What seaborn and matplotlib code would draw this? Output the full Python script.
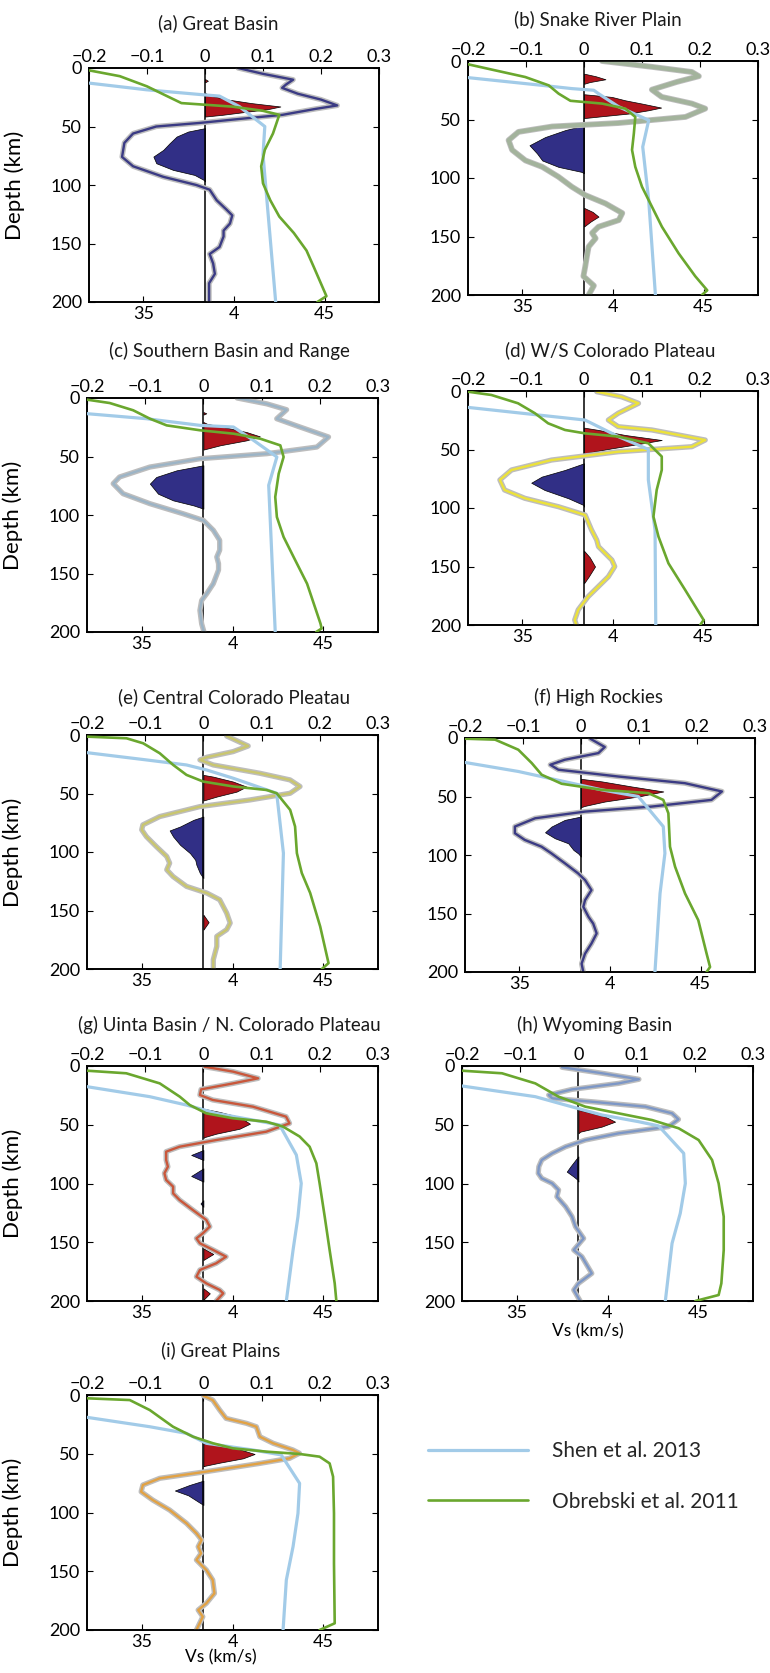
import numpy as np
import matplotlib
matplotlib.use("Agg")
import matplotlib.pyplot as plt
import seaborn as sns

# ---------------- data ----------------
TITLES = ["(a) Great Basin", "(b) Snake River Plain", "(c) Southern Basin and Range",
          "(d) W/S Colorado Plateau", "(e) Central Colorado Pleatau", "(f) High Rockies",
          "(g) Uinta Basin / N. Colorado Plateau", "(h) Wyoming Basin", "(i) Great Plains"]
TOP_TICKS = [-0.2, -0.1, 0, 0.1, 0.2, 0.3]
TOP_LABELS = ["\u22120.2", "\u22120.1", "0", "0.1", "0.2", "0.3"]
BOTTOM_TICKS = [3.5, 4.0, 4.5]
BOTTOM_LABELS = ["35", "4", "45"]
DEPTH_TICKS = [0, 50, 100, 150, 200]
LEGEND_LABELS = ["Shen et al. 2013", "Obrebski et al. 2011"]

# (a) Great Basin
A_RF_DEPTH = [0, 5, 10, 14, 17, 22, 27, 32, 35, 40, 44, 47, 50, 56, 64, 76, 84, 93, 100, 104,
              113, 121, 126, 133, 139, 144, 153, 159, 167, 176, 184, 200]
A_RF_AMP = [0.057, 0.10, 0.152, 0.14, 0.133, 0.16, 0.20, 0.228, 0.19, 0.134, 0.05, -0.01, -0.084,
            -0.124, -0.139, -0.143, -0.124, -0.072, -0.015, 0.008, 0.02, 0.037, 0.047, 0.043,
            0.032, 0.032, 0.025, 0.008, 0.014, 0.017, 0.007, 0.007]
A_LOBES = [([9.4, 10.9, 12.3], [0, 0.005, 0]),
           ([21.4, 24, 27, 30, 32.9, 35, 37.5, 40, 41.5], [0, 0.012, 0.04, 0.08, 0.13, 0.11, 0.07, 0.03, 0]),
           ([51.4, 54.3, 58.6, 64.3, 70, 75.7, 81.4, 87.1, 91.4, 95.7, 97],
            [0, -0.029, -0.049, -0.061, -0.072, -0.089, -0.084, -0.055, -0.018, -0.002, 0])]
A_SHEN_DEPTH = [12.9, 18.6, 22.9, 24, 33, 50, 74, 200]
A_SHEN_VS = [3.2, 3.516, 3.83, 3.92, 4.03, 4.17, 4.16, 4.23]
A_OBR_DEPTH = [2, 7, 15.7, 24, 30, 33, 36.6, 40, 56, 70, 84, 98.6, 113, 127, 141, 156, 170, 195, 200]
A_OBR_VS = [3.2, 3.37, 3.52, 3.63, 3.71, 3.99, 4.16, 4.25, 4.215, 4.17, 4.15, 4.16, 4.2, 4.25,
            4.33, 4.40, 4.44, 4.51, 4.46]

# (b) Snake River Plain
B_RF_DEPTH = [0, 5, 9.4, 13, 17.9, 24.5, 30.7, 36.4, 40.7, 47.8, 53, 56, 60.6, 67.7, 76, 85, 90.5,
              99, 107.5, 114.6, 121.8, 130, 136, 141.7, 147, 151.6, 158.7, 167, 176, 184, 192, 200]
B_RF_AMP = [0.031, 0.117, 0.186, 0.198, 0.16, 0.117, 0.134, 0.186, 0.209, 0.175, 0.06, -0.055,
            -0.113, -0.13, -0.124, -0.101, -0.072, -0.044, -0.021, 0.002, 0.037, 0.066, 0.06,
            0.025, 0.014, 0.02, 0.008, 0.005, 0.002, -0.001, 0.017, 0.008]
B_LOBES = [([10.8, 13, 15.6, 18, 19.5], [0, 0.02, 0.037, 0.01, 0]),
           ([28.4, 30.7, 33.6, 36.4, 39.8, 42.1, 44.9, 47.2, 48.8],
            [0, 0.048, 0.071, 0.1, 0.133, 0.111, 0.077, 0.031, 0]),
           ([55, 59, 65, 72, 79, 85, 90.5, 94.8, 96],
            [0, -0.032, -0.067, -0.094, -0.081, -0.072, -0.044, -0.004, 0]),
           ([125.5, 129, 133, 137, 141.5], [0, 0.015, 0.025, 0.012, 0])]
B_SHEN_DEPTH = [14.2, 20.8, 23.6, 25, 27.9, 39, 50.6, 73.4, 119, 200]
B_SHEN_VS = [3.2, 3.608, 3.774, 3.894, 3.92, 4.03, 4.197, 4.164, 4.197, 4.234]
B_OBR_DEPTH = [2.8, 8, 13.7, 20.8, 27.9, 34, 36.4, 40.7, 47.8, 62, 76, 90.5, 107.5, 124.6, 141.7,
               164.4, 184, 196, 200]
B_OBR_VS = [3.2, 3.35, 3.516, 3.645, 3.70, 3.765, 3.94, 4.068, 4.123, 4.115, 4.105, 4.123, 4.16,
            4.215, 4.27, 4.362, 4.454, 4.52, 4.49]

# (c) Southern Basin and Range
C_RF_DEPTH = [0, 5, 10, 17.7, 24.8, 33.3, 41.9, 47.6, 51.9, 59, 67.5, 73.2, 81.8, 90.3, 98.9, 104.6,
              113, 121.6, 130, 135.9, 141.6, 147, 158.7, 167, 173, 181.5, 193, 200]
C_RF_AMP = [0.058, 0.109, 0.143, 0.126, 0.166, 0.215, 0.195, 0.109, -0.006, -0.092, -0.144, -0.155,
            -0.138, -0.092, -0.035, 0.0, 0.017, 0.028, 0.028, 0.023, 0.026, 0.026, 0.017, 0.006,
            -0.003, -0.006, -0.003, 0.001]
C_LOBES = [([12, 13.1, 14.2], [0, 0.005, 0]),
           ([20.5, 22, 25.4, 29.1, 32.8, 36.2, 40.4, 44.1], [0, 0.006, 0.04, 0.074, 0.097, 0.074, 0.029, 0]),
           ([57.5, 61.8, 67.5, 73.2, 81.8, 87.5, 91.8, 94.6], [0, -0.046, -0.081, -0.092, -0.078, -0.052, -0.017, 0])]
C_SHEN_DEPTH = [13.4, 17.7, 23.4, 24.8, 36.2, 50.4, 74.6, 200]
C_SHEN_VS = [3.2, 3.527, 3.822, 4.005, 4.116, 4.244, 4.199, 4.235]
C_OBR_DEPTH = [1.4, 4.3, 10.5, 17.7, 23.4, 27.6, 30.5, 34.8, 40.5, 50.4, 64.7, 84.6, 101.7, 118.8,
               135.9, 158.7, 192.9, 197, 200]
C_OBR_VS = [3.2, 3.325, 3.454, 3.546, 3.638, 3.822, 4.006, 4.153, 4.263, 4.281, 4.254, 4.235, 4.244,
            4.281, 4.336, 4.41, 4.484, 4.49, 4.46]

# (d) W/S Colorado Plateau
D_RF_DEPTH = [0.6, 5, 10.5, 19, 24.8, 30.5, 33.3, 41.9, 47.6, 51.9, 59, 67.5, 76, 84.6, 91.7, 98.9,
              106, 118.8, 127.4, 133, 144.4, 150, 158.7, 167, 175.8, 187, 195.7, 200]
D_RF_AMP = [0.022, 0.065, 0.094, 0.059, 0.042, 0.059, 0.117, 0.209, 0.186, 0.059, -0.056, -0.125,
            -0.145, -0.137, -0.102, -0.044, 0.002, 0.013, 0.022, 0.025, 0.048, 0.053, 0.042, 0.025,
            0.007, -0.01, -0.016, -0.013]
D_LOBES = [([31.3, 33.3, 37.6, 41.9, 45.3, 49, 52.7, 53.3], [0, 0.025, 0.071, 0.134, 0.094, 0.048, 0.007, 0]),
           ([61.8, 67.5, 73.2, 78.4, 84.6, 91.7, 97.4, 98.9], [0, -0.033, -0.073, -0.091, -0.068, -0.027, -0.001, 0]),
           ([136.5, 142.2, 150, 158.7, 164.4], [0, 0.01, 0.019, 0.008, 0])]
D_SHEN_DEPTH = [14, 20.5, 24.8, 27.6, 39, 49.9, 76, 118.8, 200]
D_SHEN_VS = [3.2, 3.587, 3.845, 3.882, 4.03, 4.195, 4.195, 4.232, 4.236]
D_OBR_DEPTH = [0.6, 3.4, 10.5, 19, 27.6, 33.3, 36.2, 39, 44.7, 56, 67.5, 84.6, 107.4, 124.5, 147.3,
               170, 195.7, 200]
D_OBR_VS = [3.2, 3.329, 3.476, 3.569, 3.642, 3.735, 3.845, 4.03, 4.195, 4.269, 4.269, 4.241, 4.223,
            4.251, 4.306, 4.398, 4.5, 4.481]

# (e) Central Colorado Pleatau
E_RF_DEPTH = [0.9, 9.4, 14.2, 19, 21.3, 25.6, 32.7, 38.4, 44, 49.8, 55.5, 61.2, 69.7, 76.8, 81, 86.8,
              95.3, 103.8, 109.5, 115.2, 121, 129.4, 135.1, 140.8, 146.5, 152.2, 160.7, 166.4, 172.1,
              180.7, 192, 200]
E_RF_AMP = [0.04, 0.077, 0.051, 0.006, -0.006, 0.017, 0.097, 0.149, 0.166, 0.149, 0.08, -0.006,
            -0.075, -0.104, -0.106, -0.098, -0.081, -0.063, -0.058, -0.063, -0.052, -0.029, 0.006,
            0.028, 0.034, 0.04, 0.046, 0.04, 0.023, 0.023, 0.017, 0.017]
E_LOBES = [([34.1, 35.6, 39.8, 44.1, 48.4, 52.6, 56], [0, 0.017, 0.051, 0.074, 0.057, 0.023, 0]),
           ([69.7, 72.5, 78.2, 81.6, 86.8, 93.9, 101, 106.7, 111, 118.1, 122.3],
            [0, -0.017, -0.04, -0.058, -0.052, -0.04, -0.023, -0.014, -0.012, -0.006, 0]),
           ([153.6, 160, 166.4], [0, 0.009, 0])]
E_SHEN_DEPTH = [15.1, 21.3, 25.6, 29.9, 37, 49.8, 101, 200]
E_SHEN_VS = [3.2, 3.527, 3.747, 3.858, 4.005, 4.243, 4.28, 4.262]
E_OBR_DEPTH = [1.4, 2.8, 7.1, 15.6, 25.6, 34.1, 39.8, 44, 47, 49.8, 64, 78.2, 101, 118, 135, 163.6,
               195, 200]
E_OBR_VS = [3.2, 3.417, 3.509, 3.6, 3.674, 3.747, 3.839, 4.005, 4.188, 4.243, 4.317, 4.344, 4.354,
            4.381, 4.427, 4.482, 4.528, 4.491]

# (f) High Rockies
F_RF_DEPTH = [0.6, 7.7, 12.9, 18.6, 22.9, 27.1, 32.9, 38.6, 45.7, 52.9, 58.6, 62.9, 68.6, 75.7, 81.4,
              87.1, 92.9, 98.6, 107, 115.7, 121.4, 130, 138.6, 144.3, 152.9, 158.6, 167, 175.7, 184.3,
              192.9, 200]
F_RF_AMP = [0.016, 0.041, 0.03, -0.028, -0.053, -0.039, 0.064, 0.179, 0.243, 0.225, 0.122, 0.007,
            -0.079, -0.114, -0.114, -0.097, -0.068, -0.051, -0.028, -0.005, 0.007, 0.018, 0.007,
            0.004, 0.013, 0.021, 0.027, 0.018, 0.007, 0.001, 0.004]
F_LOBES = [([34.9, 37.1, 41.4, 45.7, 50, 54.3, 58, 59.1], [0, 0.036, 0.087, 0.142, 0.099, 0.041, 0.007, 0]),
           ([67.1, 70, 75.7, 80.6, 85.7, 90, 95.7, 98.6, 101.4],
            [0, -0.028, -0.051, -0.062, -0.045, -0.022, -0.013, -0.005, 0])]
F_SHEN_DEPTH = [20.9, 28.6, 38.6, 44.3, 50, 75.7, 98.6, 132.9, 200]
F_SHEN_VS = [3.2, 3.494, 3.788, 3.954, 4.156, 4.294, 4.303, 4.276, 4.248]
F_OBR_DEPTH = [0.6, 1.4, 10, 21.4, 31.4, 39.1, 44.3, 47.1, 52.9, 64.3, 92.9, 110, 132.9, 155.7, 184.3,
               195.7, 200]
F_OBR_VS = [3.2, 3.366, 3.494, 3.568, 3.623, 3.733, 3.954, 4.211, 4.294, 4.322, 4.331, 4.359, 4.414,
            4.487, 4.533, 4.552, 4.533]

# (g) Uinta Basin / N. Colorado Plateau
G_RF_DEPTH = [0.6, 4.8, 10.5, 14.8, 19.9, 24.7, 28.9, 34.6, 43.1, 48.8, 55.9, 63, 68.7, 72.9, 80, 85.7,
              91.3, 97, 102.7, 108.4, 114, 122.6, 131, 136.7, 142.4, 146.7, 150.9, 156.6, 162.3, 167.9,
              173.6, 179.3, 185, 190.6, 193.5, 200]
G_RF_AMP = [0.002, 0.051, 0.094, 0.051, -0.004, -0.006, 0.016, 0.085, 0.142, 0.148, 0.108, 0.022,
            -0.041, -0.064, -0.064, -0.061, -0.067, -0.064, -0.052, -0.052, -0.041, -0.018, 0.005,
            0.011, -0.001, -0.012, -0.006, 0.017, 0.039, 0.022, -0.006, -0.012, 0.005, 0.028, 0.034, 0.022]
G_LOBES = [([36.3, 39.1, 43.4, 49.1, 53.4, 57.6, 60.5, 61.3], [0, 0.028, 0.062, 0.08, 0.062, 0.022, 0.002, 0]),
           ([71.5, 75.7, 80], [0, -0.021, 0]),
           ([87.1, 93.6, 98.4], [0, -0.021, 0]),
           ([114.2, 117, 119.9], [0, -0.005, 0]),
           ([155.2, 160, 165.1], [0, 0.017, 0]),
           ([189.2, 193.5, 199], [0, 0.011, 0])]
G_SHEN_DEPTH = [17.6, 26.1, 33.2, 40.3, 46, 50.2, 75.7, 99.9, 128.2, 156.6, 200]
G_SHEN_VS = [3.2, 3.545, 3.746, 3.911, 4.113, 4.259, 4.351, 4.378, 4.36, 4.333, 4.296]
G_OBR_DEPTH = [4, 6.2, 14.8, 26.1, 33.2, 40.3, 44.5, 47.4, 51.6, 60, 68.7, 82.8, 99.9, 128.2, 156.6,
               185, 200]
G_OBR_VS = [3.2, 3.416, 3.6, 3.71, 3.765, 3.856, 4.003, 4.186, 4.278, 4.369, 4.424, 4.461, 4.479,
            4.507, 4.534, 4.562, 4.571]

# (h) Wyoming Basin
H_RF_DEPTH = [1.1, 6.2, 11.3, 14.8, 19.9, 24.7, 27.5, 30.4, 34.6, 40.3, 45.4, 51.6, 57.3, 63, 68.7,
              74.3, 80, 85.7, 91.3, 95.6, 99.9, 105.5, 111.2, 119.7, 128.2, 136.7, 146.7, 156.6, 162.3,
              176.5, 185, 190.6, 200]
H_RF_AMP = [-0.028, 0.041, 0.104, 0.069, -0.011, -0.051, -0.045, 0.023, 0.115, 0.161, 0.172, 0.155,
            0.069, 0.012, -0.022, -0.045, -0.063, -0.068, -0.069, -0.063, -0.045, -0.034, -0.037,
            -0.022, -0.011, -0.005, 0.009, -0.008, 0.006, 0.023, 0.0, -0.008, 0.003]
H_LOBES = [([37.4, 38.8, 43.1, 47.4, 51.6, 55.9, 57.3], [0, 0.012, 0.046, 0.063, 0.04, 0.003, 0]),
           ([76.9, 79.9, 85.7, 89.9, 94.2, 97, 98.4], [0, -0.005, -0.014, -0.02, -0.008, -0.001, 0])]
H_SHEN_DEPTH = [17, 26.1, 33.2, 41.7, 47.4, 51, 74.3, 99.9, 125.4, 150.9, 200]
H_SHEN_VS = [3.2, 3.603, 3.768, 3.97, 4.171, 4.281, 4.419, 4.428, 4.4, 4.355, 4.318]
H_OBR_DEPTH = [4, 6.2, 14.8, 26.1, 34.6, 40.3, 46, 53, 63, 80, 99.9, 128.2, 156.6, 185, 194.9, 200]
H_OBR_VS = [3.2, 3.42, 3.603, 3.731, 3.878, 4.061, 4.245, 4.391, 4.501, 4.575, 4.611, 4.639, 4.639,
            4.626, 4.611, 4.483]

# (i) Great Plains
I_RF_DEPTH = [0.6, 4.3, 12.8, 19.9, 24.1, 27, 35.5, 41.1, 46.8, 49.6, 53.9, 58.2, 65.2, 70.9, 76.6,
              82.3, 89.4, 97.9, 109.2, 117.7, 123.4, 129.1, 134.8, 140.4, 148.9, 157.4, 168.8, 177.3,
              183, 188.7, 200]
I_RF_AMP = [0.0, 0.016, 0.028, 0.039, 0.074, 0.091, 0.097, 0.12, 0.154, 0.165, 0.148, 0.097, 0.005,
            -0.075, -0.104, -0.107, -0.087, -0.058, -0.029, -0.012, -0.003, -0.009, -0.004, -0.012,
            0.005, 0.016, 0.019, 0.005, -0.009, -0.001, -0.012]
I_LOBES = [([41.1, 42.6, 46.2, 50.2, 53.9, 57.6, 60.4, 60.7], [0, 0.022, 0.062, 0.088, 0.068, 0.028, 0.001, 0]),
           ([72.9, 76.6, 81.3, 85.4, 90.8, 93.6], [0, -0.024, -0.049, -0.026, -0.009, 0])]
I_SHEN_DEPTH = [19, 27, 32.6, 41.1, 46.8, 51, 75.2, 100.7, 129, 157.4, 200]
I_SHEN_VS = [3.2, 3.545, 3.746, 3.856, 4.113, 4.268, 4.369, 4.36, 4.333, 4.296, 4.278]
I_OBR_DEPTH = [2.8, 4.3, 12.8, 27, 35.5, 41.1, 45.4, 48.2, 50.2, 52.5, 58.2, 69.5, 100.7, 143.3, 194.3, 200]
I_OBR_VS = [3.2, 3.435, 3.545, 3.673, 3.783, 3.893, 4.003, 4.186, 4.369, 4.479, 4.534, 4.553, 4.558,
            4.558, 4.562, 4.479]

PANELS = [
    (A_RF_DEPTH, A_RF_AMP, A_LOBES, A_SHEN_DEPTH, A_SHEN_VS, A_OBR_DEPTH, A_OBR_VS),
    (B_RF_DEPTH, B_RF_AMP, B_LOBES, B_SHEN_DEPTH, B_SHEN_VS, B_OBR_DEPTH, B_OBR_VS),
    (C_RF_DEPTH, C_RF_AMP, C_LOBES, C_SHEN_DEPTH, C_SHEN_VS, C_OBR_DEPTH, C_OBR_VS),
    (D_RF_DEPTH, D_RF_AMP, D_LOBES, D_SHEN_DEPTH, D_SHEN_VS, D_OBR_DEPTH, D_OBR_VS),
    (E_RF_DEPTH, E_RF_AMP, E_LOBES, E_SHEN_DEPTH, E_SHEN_VS, E_OBR_DEPTH, E_OBR_VS),
    (F_RF_DEPTH, F_RF_AMP, F_LOBES, F_SHEN_DEPTH, F_SHEN_VS, F_OBR_DEPTH, F_OBR_VS),
    (G_RF_DEPTH, G_RF_AMP, G_LOBES, G_SHEN_DEPTH, G_SHEN_VS, G_OBR_DEPTH, G_OBR_VS),
    (H_RF_DEPTH, H_RF_AMP, H_LOBES, H_SHEN_DEPTH, H_SHEN_VS, H_OBR_DEPTH, H_OBR_VS),
    (I_RF_DEPTH, I_RF_AMP, I_LOBES, I_SHEN_DEPTH, I_SHEN_VS, I_OBR_DEPTH, I_OBR_VS),
]

# ---------------- style / layout ----------------
RF_COLORS = ["#3b3b84", "#a3b39c", "#9cb4c6", "#ece23a", "#c9c66f",
             "#3b3b84", "#c9573b", "#7d97c6", "#e2a244"]
HALO = "#bdbdbd"
SHEN_COLOR = "#a2cbe8"
OBR_COLOR = "#6aa72e"
RED = "#b0141c"
BLUE = "#312f86"

W, H = 770, 1673
# axes boxes in pixels: left, top, right, bottom
BOXES = [(89, 68, 379, 302), (468, 61, 758, 295),
         (87, 398, 378, 632), (468, 391, 758, 625),
         (87, 735, 378, 969), (465, 738, 755, 972),
         (87, 1066, 378, 1301), (462, 1066, 753, 1301),
         (87, 1395, 378, 1630)]
TITLE_X = [0.445, 0.448, 0.49, 0.49, 0.505, 0.46, 0.49, 0.457, 0.46]
TITLE_Y = [1.19, 1.18, 1.2, 1.175, 1.16, 1.175, 1.175, 1.175, 1.19]

sns.set_theme(style="white")
plt.rcParams['font.family'] = ['Lato', 'DejaVu Sans']

fig = plt.figure(figsize=(W / 100, H / 100), dpi=100)
fig.patch.set_facecolor("white")

shen_handle = obr_handle = None
for i, (spec, box) in enumerate(zip(PANELS, BOXES)):
    rf_d, rf_a, lobes, sh_d, sh_v, ob_d, ob_v = spec
    l, t, r, b = box
    ax = fig.add_axes([l / W, (H - b) / H, (r - l) / W, (b - t) / H])
    axv = ax.twiny()

    for ld, la in lobes:
        col = RED if max(la) > 0 else BLUE
        ax.fill_betweenx(ld, 0, la, facecolor=col, edgecolor="black", linewidth=0.5, zorder=2)
    ax.axvline(0, color="black", linewidth=1.1, zorder=3)

    sns.lineplot(x=rf_a, y=rf_d, ax=ax, orient="y", sort=False, estimator=None,
                 color=HALO, linewidth=3.8 if i != 1 else 4.2, zorder=4)
    sns.lineplot(x=rf_a, y=rf_d, ax=ax, orient="y", sort=False, estimator=None,
                 color=RF_COLORS[i], linewidth=1.7 if i != 1 else 3.0, zorder=5)

    sns.lineplot(x=sh_v, y=sh_d, ax=axv, orient="y", sort=False, estimator=None,
                 color=SHEN_COLOR, linewidth=2.3, zorder=6)
    sns.lineplot(x=ob_v, y=ob_d, ax=axv, orient="y", sort=False, estimator=None,
                 color=OBR_COLOR, linewidth=1.9, zorder=7)
    lines = axv.get_lines()
    shen_handle, obr_handle = lines[-2], lines[-1]

    ax.set_xlim(-0.2, 0.3)
    axv.set_xlim(3.2, 4.8)
    ax.set_ylim(200, 0)

    ax.xaxis.tick_top()
    ax.set_xticks(TOP_TICKS)
    ax.set_xticklabels(TOP_LABELS)
    ax.tick_params(axis="x", direction="in", length=4, width=0.8, top=True, bottom=False,
                   labeltop=True, labelbottom=False, labelsize=13, pad=2, colors="black")
    ax.set_yticks(DEPTH_TICKS)
    ax.tick_params(axis="y", direction="in", length=4, width=0.8, left=True, right=True,
                   labelsize=13, pad=5, colors="black")
    axv.xaxis.tick_bottom()
    axv.set_xticks(BOTTOM_TICKS)
    axv.set_xticklabels(BOTTOM_LABELS)
    axv.tick_params(axis="x", direction="in", length=4, width=0.8, bottom=True, top=False,
                    labelbottom=True, labeltop=False, labelsize=13, pad=3, colors="black")

    ax.set_xlabel("")
    axv.set_xlabel("")
    ax.set_ylabel("")
    axv.set_ylabel("")
    for a in (ax, axv):
        for s in a.spines.values():
            s.set_color("black")
            s.set_linewidth(1.2)

    if i % 2 == 0:
        ax.set_ylabel("Depth (km)", fontsize=16, color="black")
        ax.yaxis.set_label_coords(-0.22, 0.5)
    if i in (7, 8):
        axv.set_xlabel("Vs (km/s)", fontsize=12.5, color="black")
        axv.xaxis.set_label_coords(0.433 if i == 7 else 0.46, -0.15 if i == 7 else -0.14)

    ax.text(TITLE_X[i], TITLE_Y[i], TITLES[i], transform=ax.transAxes, ha="center",
            va="center", fontsize=13.5, color="#1a1a1a")

fig.legend(handles=[shen_handle, obr_handle], labels=LEGEND_LABELS, loc="center left",
           bbox_to_anchor=(428 / W, 1 - 1476.5 / H), frameon=False, fontsize=15,
           handlelength=4.8, handletextpad=1.15, labelspacing=1.45, borderpad=0, borderaxespad=0)

fig.savefig("out.png", dpi=100, facecolor="white")
